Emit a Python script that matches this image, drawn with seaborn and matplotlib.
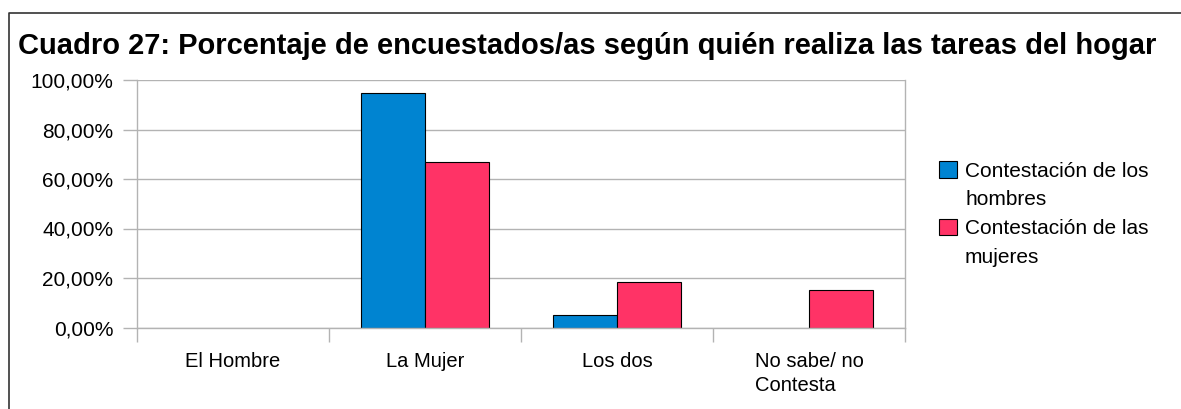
import numpy as np
import pandas as pd
import matplotlib
matplotlib.use("Agg")
import matplotlib.pyplot as plt
from matplotlib.lines import Line2D
from matplotlib.patches import Patch
from matplotlib.ticker import FuncFormatter, FixedLocator
import seaborn as sns

# Datos del cuadro 27
categorias = ["El Hombre", "La Mujer", "Los dos", "No sabe/ no\nContesta"]
series = ["Contestación de los hombres", "Contestación de las mujeres"]
hombres = [0.0, 94.87, 5.13, 0.0]
mujeres = [0.0, 66.67, 18.33, 15.0]
lineas_leyenda = ["Contestación de los", "hombres", "Contestación de las", "mujeres"]
colores = ["#0084d1", "#ff3366"]

df = pd.DataFrame({
    "categoria": categorias * 2,
    "serie": [series[0]] * 4 + [series[1]] * 4,
    "valor": hombres + mujeres,
})

sns.set_theme(style="white")
plt.rcParams["font.family"] = ["Liberation Sans", "DejaVu Sans"]
plt.rcParams["text.color"] = "black"

W, H = 1181, 409
fig = plt.figure(figsize=(W / 100, H / 100), dpi=100)
ax = fig.add_axes([137 / W, 1 - 327.5 / H, (905 - 137) / W, (327.5 - 80) / H])

sns.barplot(data=df, x="categoria", y="valor", hue="serie", order=categorias,
            hue_order=series, palette=colores, width=0.667, saturation=1,
            edgecolor="black", linewidth=0.8, ax=ax, legend=False)

# barras de altura cero: sin borde
for p in ax.patches:
    if p.get_height() == 0:
        p.set_linewidth(0)

ax.set_xlim(-0.5, 3.5)
ax.set_ylim(0, 100)
ax.set_xlabel("")
ax.set_ylabel("")

gris = "#b3b3b3"
ax.set_yticks(np.arange(0, 101, 20))
ax.yaxis.set_major_formatter(FuncFormatter(lambda v, p: f"{v:.2f}".replace(".", ",") + "%"))
ax.yaxis.grid(True, color=gris, linewidth=1)
ax.set_axisbelow(True)
ax.tick_params(axis="y", which="major", length=10, color=gris, width=1,
               labelsize=15, pad=7, left=True, labelcolor="black")

ax.xaxis.set_minor_locator(FixedLocator([-0.5, 0.5, 1.5, 2.5, 3.5]))
ax.tick_params(axis="x", which="major", length=0, labelsize=14.5, pad=17.5, labelcolor="black")
ax.tick_params(axis="x", which="minor", length=10, color=gris, width=1, bottom=True)
for lbl in ax.get_xticklabels():
    lbl.set_verticalalignment("top")
    lbl.set_multialignment("left")
    lbl.set_linespacing(1.35)

for s in ax.spines.values():
    s.set_color(gris)
    s.set_linewidth(1)
ax.spines["top"].set_visible(False)

# leyenda: una fila por línea de texto, el cuadro de color solo en la primera
handles = [Patch(facecolor=colores[0], edgecolor="black", linewidth=0.8),
           Patch(visible=False),
           Patch(facecolor=colores[1], edgecolor="black", linewidth=0.8),
           Patch(visible=False)]
leg = ax.legend(handles, lineas_leyenda, loc="upper left",
                bbox_to_anchor=(939 / W, 1 - 161 / H), bbox_transform=fig.transFigure,
                frameon=False, fontsize=15, handlelength=0.85, handleheight=0.85,
                handletextpad=0.4, labelspacing=0.45, borderaxespad=0, borderpad=0)
for t in leg.get_texts():
    t.set_color("black")

fig.text(18 / W, 1 - 46 / H, "Cuadro 27: Porcentaje de encuestados/as según quién realiza las tareas del hogar",
         fontsize=21, fontweight="bold", va="center", ha="left", color="black")

# marco exterior
fig.add_artist(Line2D([9 / W, 9 / W, 1], [0, 1 - 13 / H, 1 - 13 / H],
                      transform=fig.transFigure, color="#333333", linewidth=1.2))

fig.savefig("out.png", dpi=100)
